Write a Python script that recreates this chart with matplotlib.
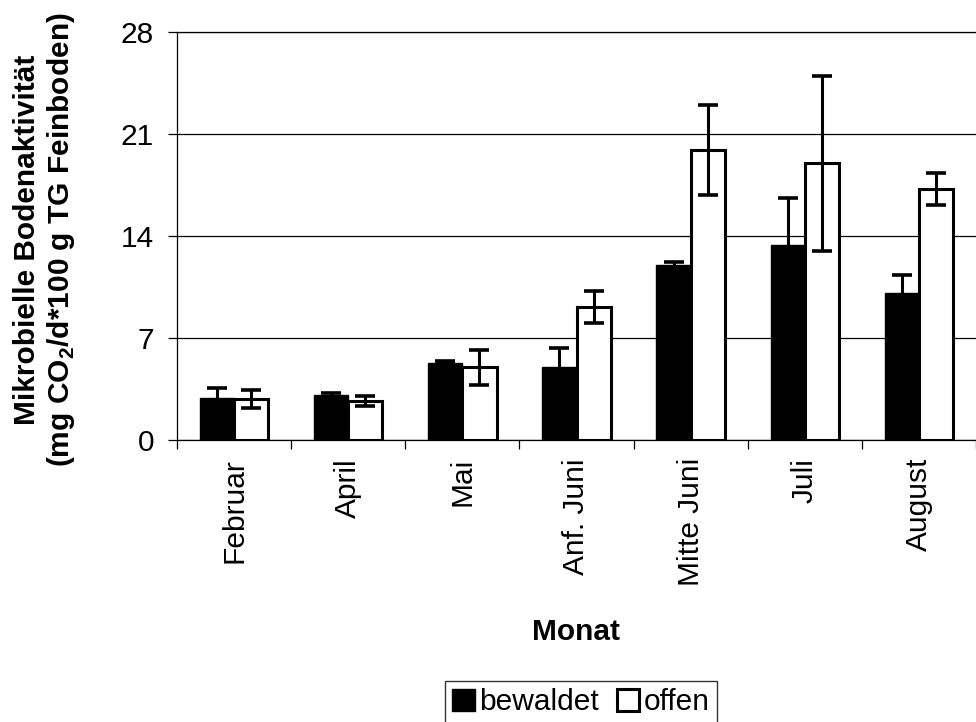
import matplotlib
matplotlib.use("Agg")
import matplotlib.pyplot as plt
import numpy as np
from matplotlib.patches import Patch

plt.rcParams["font.family"] = ["Liberation Sans", "DejaVu Sans"]
plt.rcParams["mathtext.fontset"] = "custom"
plt.rcParams["mathtext.rm"] = "Liberation Sans"
plt.rcParams["mathtext.bf"] = "Liberation Sans:bold"

# values
months = ["Februar", "April", "Mai", "Anf. Juni", "Mitte Juni", "Juli", "August"]
bewaldet = [2.9, 3.1, 5.3, 5.0, 12.0, 13.4, 10.1]
bewaldet_err = [0.7, 0.15, 0.1, 1.3, 0.2, 3.2, 1.2]
offen = [2.8, 2.7, 5.0, 9.1, 19.9, 19.0, 17.2]
offen_err = [0.6, 0.35, 1.2, 1.1, 3.1, 6.0, 1.1]
yticks = [0, 7, 14, 21, 28]

FS = 21.5

fig = plt.figure(figsize=(9.76, 7.22), dpi=100)
ax = fig.add_axes([177 / 976, 282 / 722, 1 - 177 / 976, 408 / 722])

x = np.arange(len(months))
w = 0.3
ax.bar(x - w / 2, bewaldet, w, color="black", edgecolor="black", linewidth=1.0, zorder=2)
ax.bar(x + w / 2, offen, w, color="white", edgecolor="black", linewidth=2.2, zorder=2)
err_kw = dict(fmt="none", ecolor="black", elinewidth=2.2, capsize=7.5, capthick=2.6, zorder=3)
ax.errorbar(x - w / 2, bewaldet, yerr=bewaldet_err, **err_kw)
ax.errorbar(x + w / 2, offen, yerr=offen_err, **err_kw)

ax.set_ylim(0, 28)
ax.set_xlim(-0.5, 6.41)
ax.set_yticks(yticks)
ax.set_yticklabels([str(t) for t in yticks], fontsize=FS)
ax.tick_params(axis="y", direction="out", length=6.5, width=0.9, pad=10)
ax.grid(axis="y", color="black", linewidth=0.9, zorder=0)

ax.set_xticks(x)
ax.set_xticklabels(months, rotation=90, fontsize=FS)
ax.set_xticks(np.arange(-0.5, len(months), 1.0), minor=True)
ax.tick_params(axis="x", which="major", length=0, pad=13)
ax.tick_params(axis="x", which="minor", direction="out", length=6.5, width=0.9)

ax.spines[["right"]].set_visible(False)
for s in ["left", "bottom", "top"]:
    ax.spines[s].set_linewidth(0.9)

fig.text(45 / 976, 1 - 240 / 722,
         "Mikrobielle Bodenaktivität\n(mg CO$_\\mathbf{2}$/d*100 g TG Feinboden)",
         rotation=90, ha="center", va="center", multialignment="center",
         fontsize=FS, fontweight="bold", linespacing=1.15)
fig.text(576 / 976, 1 - 632 / 722, "Monat", ha="center", va="center",
         fontsize=FS, fontweight="bold")

handles = [Patch(facecolor="black", edgecolor="black", linewidth=1.0),
           Patch(facecolor="white", edgecolor="black", linewidth=2.2)]
leg = fig.legend(handles, ["bewaldet", "offen"], loc="upper center",
                 bbox_to_anchor=(581 / 976, 1 - 681 / 722), ncol=2, fontsize=FS,
                 frameon=True, fancybox=False, edgecolor="black", borderpad=0.25,
                 handlelength=0.75, handleheight=0.75, handletextpad=0.15,
                 columnspacing=0.6, borderaxespad=0)
leg.get_frame().set_linewidth(1.0)

fig.savefig("out.png", dpi=100)
